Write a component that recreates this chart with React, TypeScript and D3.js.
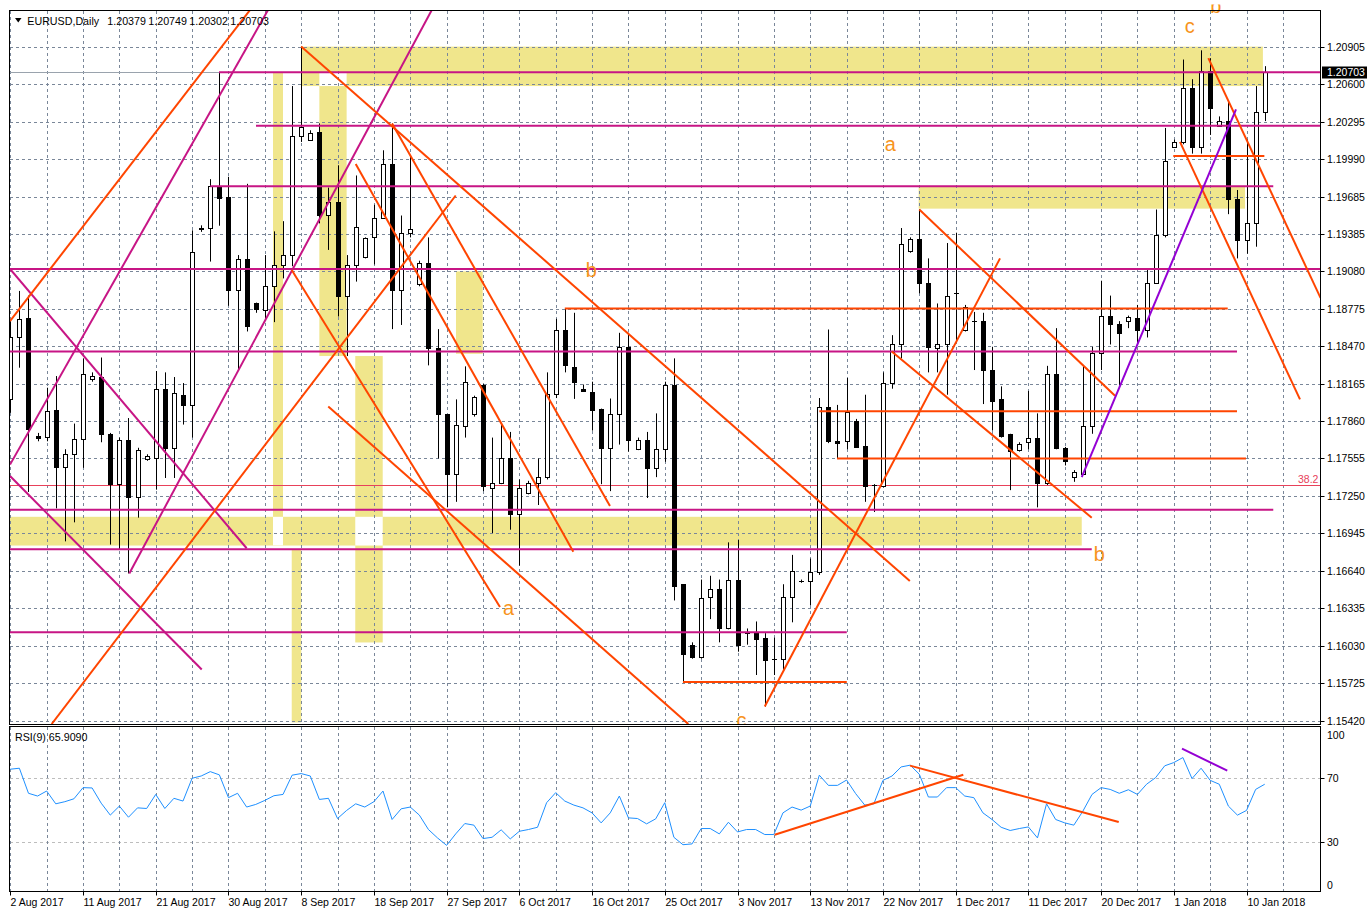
import React from 'react';
import * as d3 from 'd3';

// ---------- DATA ----------
const openP = [
1.18040,1.18540,1.18699,1.17740,1.17733,1.17953,1.17486,1.17593,1.17714,1.18199,
1.18218,1.17756,1.17346,1.17706,1.17244,1.17551,1.17562,1.18123,1.17642,1.18074,
1.17991,1.19423,1.19431,1.19772,1.19685,1.18927,1.19177,1.18817,1.18767,1.18957,
1.19127,1.19211,1.20181,1.20151,1.20215,1.19537,1.19639,1.18874,1.19127,1.19196,
1.19355,1.19514,1.19950,1.18927,1.19393,1.18976,1.19146,1.18457,1.17915,1.17430,
1.17820,1.17915,1.18150,1.17316,1.17354,1.17555,1.17100,1.17270,1.17354,1.17403,
1.18078,1.18597,1.18301,1.18120,1.18097,1.17961,1.17642,1.17915,1.18464,1.17630,
1.17706,1.17479,1.17630,1.18150,1.16531,1.16039,1.15936,1.16425,1.16494,1.16171,
1.16562,1.16133,1.16133,1.16096,1.15925,1.15925,1.16425,1.16558,1.16558,1.16634,
1.17972,1.17695,1.17695,1.17858,1.17657,1.17335,1.17327,1.18172,1.18491,1.19241,
1.19344,1.18983,1.18453,1.18483,1.18900,1.18597,1.18673,1.18673,1.18275,1.18036,
1.17752,1.17623,1.17687,1.17725,1.17354,1.18244,1.17642,1.17403,1.17430,1.17820,
1.18415,1.18718,1.18646,1.18673,1.18699,1.18597,1.18983,1.19374,1.20094,1.20132,
1.20568,1.20094,1.20712,1.20264,1.20302,1.19666,1.19336,1.19476,1.20379];
const highP = [
1.18673,1.18919,1.18881,1.17763,1.18131,1.18226,1.17630,1.17839,1.18370,1.18256,
1.18377,1.17763,1.17725,1.17884,1.17642,1.17589,1.18267,1.18256,1.18218,1.18169,
1.19412,1.19453,1.19829,1.20700,1.19848,1.19211,1.19791,1.18824,1.19211,1.19404,
1.19487,1.20587,1.20909,1.20227,1.20283,1.19760,1.19942,1.19211,1.19859,1.19355,
1.19620,1.20064,1.20283,1.19533,1.20018,1.19165,1.19355,1.18608,1.17915,1.18036,
1.18305,1.18066,1.18161,1.17725,1.17839,1.17771,1.17384,1.17373,1.17555,1.18256,
1.18692,1.18775,1.18741,1.18157,1.18180,1.17961,1.18043,1.18578,1.18578,1.17725,
1.17771,1.17922,1.18180,1.18370,1.16531,1.16058,1.16569,1.16600,1.16569,1.16872,
1.16891,1.16171,1.16228,1.16133,1.16096,1.16531,1.16770,1.16569,1.16740,1.18047,
1.18605,1.17991,1.18210,1.17877,1.18074,1.17346,1.18256,1.18559,1.19431,1.19355,
1.19582,1.19184,1.18817,1.19309,1.19393,1.18805,1.18748,1.18741,1.18464,1.18142,
1.17756,1.17687,1.18104,1.17922,1.18309,1.18616,1.17649,1.17460,1.18313,1.18464,
1.19002,1.18881,1.18673,1.18718,1.18805,1.19090,1.19582,1.20246,1.20151,1.20803,
1.20643,1.20878,1.20814,1.20340,1.20473,1.19741,1.20151,1.20587,1.20749];
const lowP = [
1.17926,1.18294,1.17282,1.17695,1.17695,1.17149,1.16880,1.17035,1.17479,1.18180,
1.17687,1.16854,1.16816,1.16619,1.17073,1.17536,1.17301,1.17396,1.17396,1.17831,
1.17725,1.19400,1.19158,1.19450,1.18798,1.18275,1.18589,1.18741,1.18692,1.18665,
1.19021,1.19120,1.20132,1.20143,1.19469,1.19253,1.18711,1.18389,1.18995,1.19184,
1.19135,1.19506,1.18608,1.18642,1.19355,1.18957,1.18313,1.17555,1.17157,1.17202,
1.17725,1.17896,1.17289,1.16948,1.17346,1.16975,1.16683,1.17263,1.17176,1.17384,
1.18047,1.18256,1.18040,1.18097,1.17782,1.17346,1.17289,1.17668,1.17611,1.17623,
1.17233,1.17403,1.17528,1.16399,1.15735,1.15925,1.15925,1.16247,1.16058,1.16164,
1.15982,1.16039,1.15792,1.15535,1.15792,1.15830,1.16221,1.16543,1.16361,1.16607,
1.17680,1.17555,1.17630,1.17642,1.17202,1.17119,1.17320,1.18123,1.18370,1.19230,
1.18900,1.18256,1.18256,1.18074,1.18502,1.18589,1.18275,1.17998,1.17782,1.17725,
1.17297,1.17611,1.17630,1.17157,1.17339,1.17630,1.17498,1.17365,1.17422,1.17756,
1.18275,1.18483,1.18150,1.18616,1.18483,1.18540,1.18976,1.19355,1.20083,1.20113,
1.20037,1.20037,1.20189,1.20257,1.19544,1.19184,1.19222,1.19279,1.20302];
const closeP = [
1.18540,1.18692,1.17793,1.17725,1.17941,1.17486,1.17593,1.17714,1.18244,1.18226,
1.17756,1.17346,1.17706,1.17244,1.17623,1.17574,1.18123,1.17642,1.18085,1.17991,
1.19234,1.19431,1.19772,1.19677,1.18927,1.19177,1.18635,1.18775,1.18957,1.19127,
1.19211,1.20181,1.20257,1.20208,1.19537,1.19639,1.18874,1.19127,1.19442,1.19347,
1.19514,1.19950,1.18927,1.19393,1.19423,1.19146,1.18457,1.17915,1.17430,1.17831,
1.18180,1.18055,1.17327,1.17354,1.17555,1.17100,1.17316,1.17354,1.17403,1.18078,
1.18597,1.18313,1.18180,1.18104,1.17953,1.17642,1.17915,1.18464,1.17706,1.17706,
1.17479,1.17630,1.18150,1.16520,1.15963,1.15936,1.16418,1.16494,1.16171,1.16562,
1.16039,1.16133,1.16088,1.15914,1.15925,1.16425,1.16638,1.16558,1.16634,1.17972,
1.17695,1.17680,1.17934,1.17649,1.17327,1.17335,1.18172,1.18491,1.19298,1.19344,
1.18983,1.18464,1.18483,1.18881,1.18900,1.18786,1.18673,1.18275,1.18021,1.17737,
1.17619,1.17676,1.17725,1.17354,1.18244,1.17638,1.17536,1.17441,1.17820,1.18415,
1.18718,1.18646,1.18578,1.18703,1.18597,1.18983,1.19374,1.19980,1.20132,1.20568,
1.20094,1.20712,1.20409,1.20302,1.19666,1.19336,1.19476,1.20378,1.20703];
const rsiValues = [
75.2,75.8,60.3,58.6,61.7,53.8,55.1,56.9,63.8,63.6,
54.2,46.8,52.4,45.5,51.3,50.9,59.6,50.9,57.2,55.5,
69.6,71.0,73.7,71.7,57.6,60.3,51.8,53.4,55.9,58.8,
59.6,71.5,72.5,71.0,56.5,57.2,44.7,49.7,53.8,51.8,
55.1,61.7,44.1,50.7,51.8,46.8,37.9,32.7,28.1,35.2,
41.6,40.6,32.3,33.1,37.7,32.1,36.8,37.9,39.3,54.5,
60.7,55.5,53.0,51.3,48.2,42.0,48.2,58.6,45.1,44.7,
41.4,44.5,54.5,33.1,28.5,29.0,38.5,38.5,35.2,42.4,
36.4,37.9,37.9,34.8,34.8,48.2,51.8,49.9,52.4,71.5,
65.2,65.2,68.5,60.1,53.0,53.8,68.3,71.0,76.6,77.7,
72.1,58.0,58.0,63.8,63.8,58.6,57.6,48.2,44.1,39.3,
37.3,38.5,39.5,32.7,53.8,44.1,42.0,40.6,49.3,59.6,
63.8,62.7,60.3,62.5,59.6,65.9,70.0,77.3,79.3,82.4,
69.4,75.8,68.3,65.9,52.4,46.8,49.7,62.7,65.9];
const rsiLastLabel = '65.9090';

const priceTicks = ['1.20905','1.20600','1.20295','1.19990','1.19685','1.19385','1.19080','1.18775','1.18470','1.18165','1.17860','1.17555','1.17250','1.16945','1.16640','1.16335','1.16030','1.15725','1.15420'];
const dateLabels = ['2 Aug 2017','11 Aug 2017','21 Aug 2017','30 Aug 2017','8 Sep 2017','18 Sep 2017','27 Sep 2017','6 Oct 2017','16 Oct 2017','25 Oct 2017','3 Nov 2017','13 Nov 2017','22 Nov 2017','1 Dec 2017','11 Dec 2017','20 Dec 2017','1 Jan 2018','10 Jan 2018'];
const dateBars = [0,8,16,24,32,40,48,56,64,72,80,88,96,104,112,120,128,136];
const rsiTicks = [100, 70, 30, 0];

// zones: [barFrom, barTo, priceTop, priceBottom]
const zones = [
  [32.0, 137.8, 1.20908, 1.20587],
  [28.9, 30.0, 1.20700, 1.16846],
  [34.0, 37.0, 1.20700, 1.18389],
  [37.95, 40.97, 1.18389, 1.16057],
  [30.96, 32.01, 1.16818, 1.15406],
  [49.03, 51.97, 1.19078, 1.18407],
  [-3, 117.87, 1.17080, 1.16846],
  [99.93, 135.83, 1.19772, 1.19589],
];
// horizontal levels: [barFrom, barTo, price]
const magentaLevels = [
  [22.96, 150, 1.20700], [27.03, 150, 1.20264], [22.0, 138.94, 1.19772], [-3, 150, 1.19097],
  [-3, 134.95, 1.18426], [-3, 138.94, 1.17137], [-3, 118.97, 1.16816], [-3, 92.02, 1.16141],
];
const orangeLevels = [
  [61.0, 133.93, 1.18775], [89.0, 134.95, 1.17939], [90.95, 135.94, 1.17554], [74.0, 92.02, 1.15735], [127.94, 137.96, 1.20018],
];
// trend lines: [bar0, price0, bar1, price1]
const magentaTrends = [
  [-0.03, 1.19098, 26.0, 1.16824],
  [-0.03, 1.17412, 21.06, 1.15837],
  [-0.03, 1.17505, 28.35, 1.21206],
  [13.09, 1.16618, 46.36, 1.21205],
];
const orangeTrends = [
  [-0.03, 1.18674, 26.37, 1.21206],
  [4.55, 1.15393, 49.0, 1.19696],
  [32.0, 1.20909, 98.96, 1.16558],
  [42.0, 1.20283, 65.97, 1.17168],
  [38.0, 1.19953, 61.94, 1.16796],
  [30.96, 1.19090, 53.87, 1.16346],
  [34.98, 1.17979, 74.59, 1.15393],
  [83.0, 1.15535, 108.88, 1.19184],
  [96.97, 1.18426, 118.97, 1.17073],
  [100.0, 1.19582, 121.53, 1.18066],
  [131.8, 1.20814, 144.14, 1.18862],
  [128.68, 1.20132, 141.88, 1.18036],
];
const purpleTrends = [[117.87, 1.17403, 134.84, 1.20397]];
const fibLevel = 1.17338;
const bidPrice = 1.20703;
// wave labels: [bar, price (baseline), text]
const waveLabels: [number, number, string][] = [
  [96.2, 1.20058, 'a'], [63.3, 1.19033, 'b'], [54.2, 1.16281, 'a'], [119.2, 1.16720, 'b'],
  [129.2, 1.21015, 'c'], [132.0, 1.21182, 'b'], [79.9, 1.15368, 'c'],
];
// RSI trend lines: [bar0, rsi0, bar1, rsi1]
const rsiOrange = [[84.09, 34.7, 104.84, 71.8], [98.98, 77.4, 121.94, 42.5]];
const rsiPurple = [[128.9, 87.9, 133.88, 74.3]];

const header = ['1.20379', '1.20749', '1.20302', '1.20703'];

// ---------- SCALES ----------
const xs = d3.scaleLinear().domain([0, 138]).range([10.3, 10.3 + 138 * 9.09]);
const ys = d3.scaleLinear().domain([1.1542, 1.20905]).range([720.7, 47]);
const rs = d3.scaleLinear().domain([0, 100]).range([890.8, 729.1]);

const MAIN = { l: 9.5, r: 1320.5, t: 10.5, b: 724.5 };
const SUB = { t: 726.5, b: 891.5 };
const FONT = 'Liberation Sans, Arial, sans-serif';
const YELLOW = '#F0E68C';
const MAGENTA = '#C71585';
const ORANGE = '#FF4500';
const PURPLE = '#9400D3';
const GRID = '#7A8799';

export default function App() {
  const rsiLine = d3.line<number>().x((_, i) => xs(i)).y((d) => rs(d))(rsiValues) || '';
  const gridBars = d3.range(0, 141, 4);

  // XOR-like overlaps of zones rendered white
  const overlaps: number[][] = [];
  for (let a = 0; a < zones.length; a++) {
    for (let b = a + 1; b < zones.length; b++) {
      const A = zones[a], Bz = zones[b];
      const x0 = Math.max(xs(A[0]), xs(Bz[0])), x1 = Math.min(xs(A[1]), xs(Bz[1]));
      const y0 = Math.max(ys(A[2]), ys(Bz[2])), y1 = Math.min(ys(A[3]), ys(Bz[3]));
      if (x1 > x0 && y1 > y0) overlaps.push([x0, y0, x1, y1]);
    }
  }

  return (
    <svg width={1367} height={909} style={{ position: 'absolute', left: 0, top: 0, background: '#fff' }} fontFamily={FONT}>
      <defs>
        <clipPath id="mainClip"><rect x={10} y={11} width={1310} height={713} /></clipPath>
        <clipPath id="topClip"><rect x={0} y={4.5} width={1367} height={720} /></clipPath>
        <clipPath id="rsiClip"><rect x={10} y={727} width={1310} height={164} /></clipPath>
      </defs>
      <rect x={0} y={0} width={1367} height={909} fill="#fff" />

      <g clipPath="url(#mainClip)">
        {zones.map((z, k) => (
          <rect key={'z' + k} x={xs(z[0])} y={ys(z[2])} width={xs(z[1]) - xs(z[0])} height={ys(z[3]) - ys(z[2])} fill={YELLOW} />
        ))}
        {overlaps.map((o, k) => (
          <rect key={'o' + k} x={o[0]} y={o[1]} width={o[2] - o[0]} height={o[3] - o[1]} fill="#fff" />
        ))}
        {priceTicks.map((t) => {
          const y = Math.round(ys(+t)) + 0.5;
          return <line key={'hg' + t} x1={10} x2={1320} y1={y} y2={y} stroke={GRID} strokeDasharray="3,3" strokeWidth={1} />;
        })}
        {gridBars.map((b) => {
          const x = Math.round(xs(b)) + 0.5;
          return <line key={'vg' + b} x1={x} x2={x} y1={11} y2={724} stroke={GRID} strokeDasharray="3,3" strokeWidth={1} />;
        })}
        <line x1={10} x2={1320} y1={Math.round(ys(bidPrice)) + 0.5} y2={Math.round(ys(bidPrice)) + 0.5} stroke="#9AA3AD" strokeWidth={1} />
        <line x1={10} x2={1320} y1={Math.round(ys(fibLevel)) + 0.5} y2={Math.round(ys(fibLevel)) + 0.5} stroke="#E8415A" strokeWidth={1} />
        <text x={1298} y={ys(fibLevel) - 2} fontSize={10.5} fill="#E8415A">38.2</text>

        {openP.map((o, i) => {
          const cx = Math.round(xs(i)) + 0.5;
          const c = closeP[i];
          const up = c >= o;
          const top = Math.round(Math.min(ys(o), ys(c))) + 0.5;
          const bot = Math.round(Math.max(ys(o), ys(c))) + 0.5;
          return (
            <g key={'c' + i}>
              <line x1={cx} x2={cx} y1={ys(highP[i])} y2={ys(lowP[i])} stroke="#000" strokeWidth={1} />
              {bot - top < 1 ? (
                <line x1={cx - 2.5} x2={cx + 2.5} y1={top} y2={top} stroke="#000" strokeWidth={1} />
              ) : (
                <rect x={cx - 2} y={top} width={4} height={bot - top} fill={up ? '#fff' : '#000'} stroke="#000" strokeWidth={1} />
              )}
            </g>
          );
        })}

        {magentaLevels.map((h, k) => (
          <line key={'mh' + k} x1={xs(h[0])} x2={xs(h[1])} y1={ys(h[2])} y2={ys(h[2])} stroke={MAGENTA} strokeWidth={2} />
        ))}
        {orangeLevels.map((h, k) => (
          <line key={'oh' + k} x1={xs(h[0])} x2={xs(h[1])} y1={ys(h[2])} y2={ys(h[2])} stroke={ORANGE} strokeWidth={2} />
        ))}
        {magentaTrends.map((t, k) => (
          <line key={'mt' + k} x1={xs(t[0])} y1={ys(t[1])} x2={xs(t[2])} y2={ys(t[3])} stroke={MAGENTA} strokeWidth={2} />
        ))}
        {orangeTrends.map((t, k) => (
          <line key={'ot' + k} x1={xs(t[0])} y1={ys(t[1])} x2={xs(t[2])} y2={ys(t[3])} stroke={ORANGE} strokeWidth={2} />
        ))}
        {purpleTrends.map((t, k) => (
          <line key={'pt' + k} x1={xs(t[0])} y1={ys(t[1])} x2={xs(t[2])} y2={ys(t[3])} stroke={PURPLE} strokeWidth={2} />
        ))}
      </g>

      <g clipPath="url(#topClip)">
        {waveLabels.map((w, k) => (
          <text key={'w' + k} x={xs(w[0])} y={ys(w[1])} fontSize={20} fill="#F7941D" clipPath={k === 6 ? 'url(#mainClip)' : undefined}>{w[2]}</text>
        ))}
      </g>

      {/* header */}
      <path d="M15,18 L21.5,18 L18.25,22.5 Z" fill="#000" />
      <text x={27.3} y={24.5} fontSize={10.7} fill="#000">EURUSD,Daily</text>
      {header.map((h, k) => (
        <text key={'hd' + k} x={107.3 + k * 41} y={24.5} fontSize={10.7} fill="#000">{h}</text>
      ))}

      {/* main border */}
      <rect x={MAIN.l} y={MAIN.t} width={MAIN.r - MAIN.l} height={MAIN.b - MAIN.t} fill="none" stroke="#000" strokeWidth={1} />

      {/* price axis */}
      {priceTicks.map((t) => {
        const y = Math.round(ys(+t)) + 0.5;
        return (
          <g key={'pt' + t}>
            <line x1={1320.5} x2={1324.5} y1={y} y2={y} stroke="#000" />
            <text x={1327} y={y + 3.8} fontSize={10.5} fill="#000">{t}</text>
          </g>
        );
      })}
      <rect x={1322} y={Math.round(ys(bidPrice)) - 5.5} width={45} height={12} fill="#000" />
      <text x={1327} y={Math.round(ys(bidPrice)) + 4.3} fontSize={10.5} fill="#fff">{bidPrice.toFixed(5)}</text>

      {/* RSI panel */}
      <g clipPath="url(#rsiClip)">
        {[70, 30].map((v) => {
          const y = Math.round(rs(v)) + 0.5;
          return <line key={'rg' + v} x1={10} x2={1320} y1={y} y2={y} stroke="#BDBDBD" strokeDasharray="3,3" />;
        })}
        {gridBars.map((b) => {
          const x = Math.round(xs(b)) + 0.5;
          return <line key={'rv' + b} x1={x} x2={x} y1={727} y2={891} stroke={GRID} strokeDasharray="3,3" />;
        })}
        <path d={rsiLine} fill="none" stroke="#1E90FF" strokeWidth={1} />
        {rsiOrange.map((t, k) => (
          <line key={'ro' + k} x1={xs(t[0])} y1={rs(t[1])} x2={xs(t[2])} y2={rs(t[3])} stroke={ORANGE} strokeWidth={2} />
        ))}
        {rsiPurple.map((t, k) => (
          <line key={'rp' + k} x1={xs(t[0])} y1={rs(t[1])} x2={xs(t[2])} y2={rs(t[3])} stroke={PURPLE} strokeWidth={2} />
        ))}
      </g>
      <text x={15} y={741} fontSize={10.7} fill="#000">RSI(9) {rsiLastLabel}</text>
      <rect x={MAIN.l} y={SUB.t} width={MAIN.r - MAIN.l} height={SUB.b - SUB.t} fill="none" stroke="#000" strokeWidth={1} />
      {rsiTicks.map((v) => {
        const y = Math.round(rs(v)) + 0.5;
        const ty = Math.min(Math.max(y + 3.8, 739), 888.5);
        return (
          <g key={'rt' + v}>
            {v !== 100 && v !== 0 && <line x1={1320.5} x2={1324.5} y1={y} y2={y} stroke="#000" />}
            <text x={1327} y={ty} fontSize={10.5} fill="#000">{v}</text>
          </g>
        );
      })}

      {/* date axis */}
      {dateLabels.map((d, k) => {
        const x = Math.round(xs(dateBars[k])) + 0.5;
        return (
          <g key={'d' + k}>
            <line x1={x} x2={x} y1={891.5} y2={895.5} stroke="#000" />
            <text x={x} y={906} fontSize={10.5} fill="#000">{d}</text>
          </g>
        );
      })}
    </svg>
  );
}
